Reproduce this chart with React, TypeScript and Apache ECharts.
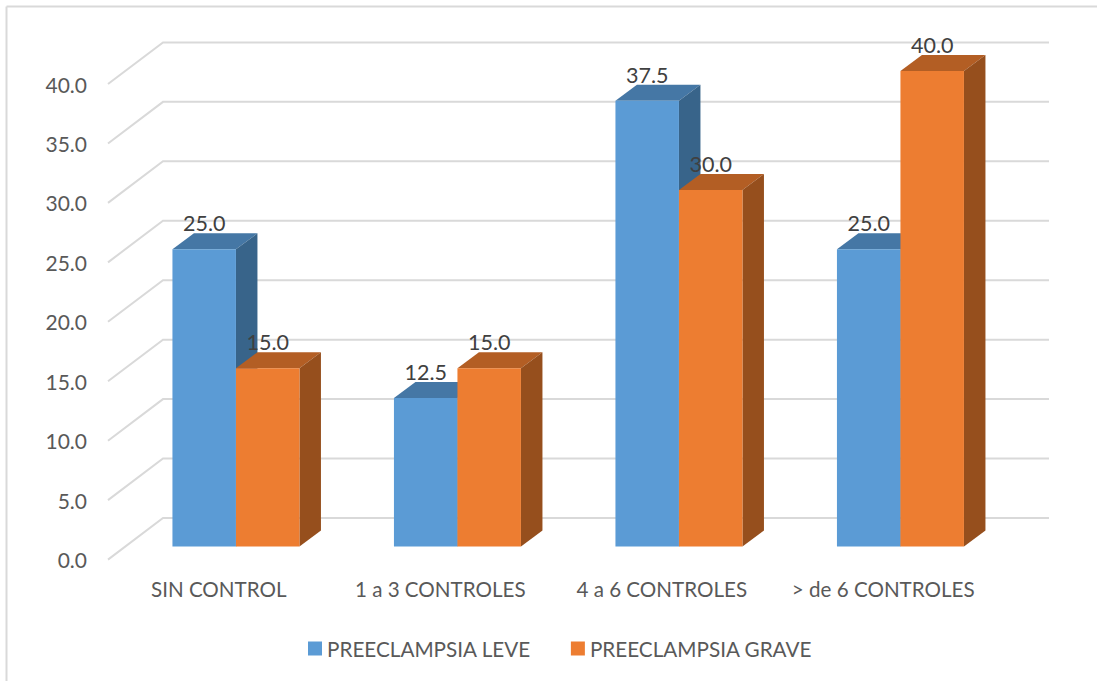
import React, { useEffect, useRef } from "react";
import * as echarts from "echarts";

const categories = ["SIN CONTROL", "1 a 3 CONTROLES", "4 a 6 CONTROLES", "> de 6 CONTROLES"];
const leveValues = [25.0, 12.5, 37.5, 25.0];
const graveValues = [15.0, 15.0, 30.0, 40.0];
const wallTicks = [0, 5, 10, 15, 20, 25, 30, 35, 40];

const FONT = "Lato";
const BLUE = { front: "#5B9BD5", top: "#4577A5", side: "#38648A" };
const ORANGE = { front: "#ED7D31", top: "#B35E24", side: "#964F1D" };

// Oblique projection of the box: wall depth, and the gap and depth of the bars
const WALL_DX = 55;
const WALL_DY = 41.6;
const BAR_GAP_DX = 17.2;
const BAR_GAP_DY = 13;
const BAR_DX = 21.5;
const BAR_DY = 16;
const BAR_RATIO = 0.2867;

function wallLine(params: any, api: any) {
  const cs = params.coordSys;
  const y = api.coord([0, api.value(0)])[1];
  return {
    type: "polyline",
    silent: true,
    shape: {
      points: [
        [cs.x, y],
        [cs.x + WALL_DX, y - WALL_DY],
        [cs.x + cs.width + WALL_DX, y - WALL_DY],
      ],
    },
    style: { stroke: "#D9D9D9", lineWidth: 2, fill: "none" },
  };
}

function barRenderer(offset: number, palette: typeof BLUE) {
  return (_params: any, api: any) => {
    const value = api.value(1);
    const top = api.coord([api.value(0), value]);
    const base = api.coord([api.value(0), 0]);
    const w = api.size([1, 0])[0] * BAR_RATIO;
    const x0 = top[0] + BAR_GAP_DX + offset * w;
    const x1 = x0 + w;
    const yT = top[1] - BAR_GAP_DY;
    const yB = base[1] - BAR_GAP_DY;
    return {
      type: "group",
      children: [
        {
          type: "polygon",
          shape: { points: [[x0, yT], [x1, yT], [x1 + BAR_DX, yT - BAR_DY], [x0 + BAR_DX, yT - BAR_DY]] },
          style: { fill: palette.top },
        },
        {
          type: "polygon",
          shape: { points: [[x1, yT], [x1 + BAR_DX, yT - BAR_DY], [x1 + BAR_DX, yB - BAR_DY], [x1, yB]] },
          style: { fill: palette.side },
        },
        {
          type: "rect",
          shape: { x: x0, y: yT, width: w, height: yB - yT },
          style: { fill: palette.front },
        },
        {
          type: "text",
          z2: 20,
          style: {
            text: value.toFixed(1),
            x: (x0 + x1) / 2,
            y: yT - 26,
            align: "center",
            verticalAlign: "middle",
            fill: "#404040",
            font: `21.5px ${FONT}`,
          },
        },
      ],
    };
  };
}

export default function App() {
  const ref = useRef<HTMLDivElement>(null);

  useEffect(() => {
    const chart = echarts.init(ref.current!, null, { renderer: "svg" });
    chart.setOption({
      animation: false,
      backgroundColor: "#FFFFFF",
      grid: { left: 108, top: 84, width: 886, height: 475.6, containLabel: false },
      xAxis: {
        type: "category",
        data: categories,
        axisLine: { show: false },
        axisTick: { show: false },
        axisLabel: { color: "#595959", fontFamily: FONT, fontSize: 20.6, margin: 19, interval: 0 },
      },
      yAxis: {
        type: "value",
        min: 0,
        max: 40,
        interval: 5,
        axisLine: { show: false },
        axisTick: { show: false },
        splitLine: { show: false },
        axisLabel: {
          color: "#595959",
          fontFamily: FONT,
          fontSize: 21,
          margin: 21,
          formatter: (v: number) => v.toFixed(1),
        },
      },
      legend: {
        data: ["PREECLAMPSIA LEVE", "PREECLAMPSIA GRAVE"],
        left: 303,
        top: 633,
        itemWidth: 14,
        itemHeight: 14,
        itemGap: 40,
        icon: "rect",
        textStyle: { color: "#595959", fontFamily: FONT, fontSize: 20.7 },
      },
      graphic: [
        { type: "line", silent: true, shape: { x1: 6.5, y1: 6.5, x2: 1097, y2: 6.5 }, style: { stroke: "#D9D9D9", lineWidth: 2 } },
        { type: "line", silent: true, shape: { x1: 6.5, y1: 6.5, x2: 6.5, y2: 681 }, style: { stroke: "#D9D9D9", lineWidth: 2 } },
      ],
      series: [
        {
          type: "custom",
          name: "wall",
          silent: true,
          renderItem: wallLine,
          data: wallTicks.map((t) => [t]),
          encode: { y: 0 },
          z: 1,
        },
        {
          type: "custom",
          name: "PREECLAMPSIA LEVE",
          itemStyle: { color: BLUE.front },
          renderItem: barRenderer(-1, BLUE),
          data: leveValues.map((v, i) => [i, v]),
          encode: { x: 0, y: 1 },
          z: 2,
        },
        {
          type: "custom",
          name: "PREECLAMPSIA GRAVE",
          itemStyle: { color: ORANGE.front },
          renderItem: barRenderer(0, ORANGE),
          data: graveValues.map((v, i) => [i, v]),
          encode: { x: 0, y: 1 },
          z: 3,
        },
      ],
    });
    return () => chart.dispose();
  }, []);

  return <div ref={ref} style={{ position: "absolute", left: 0, top: 0, width: 1097, height: 681 }} />;
}
